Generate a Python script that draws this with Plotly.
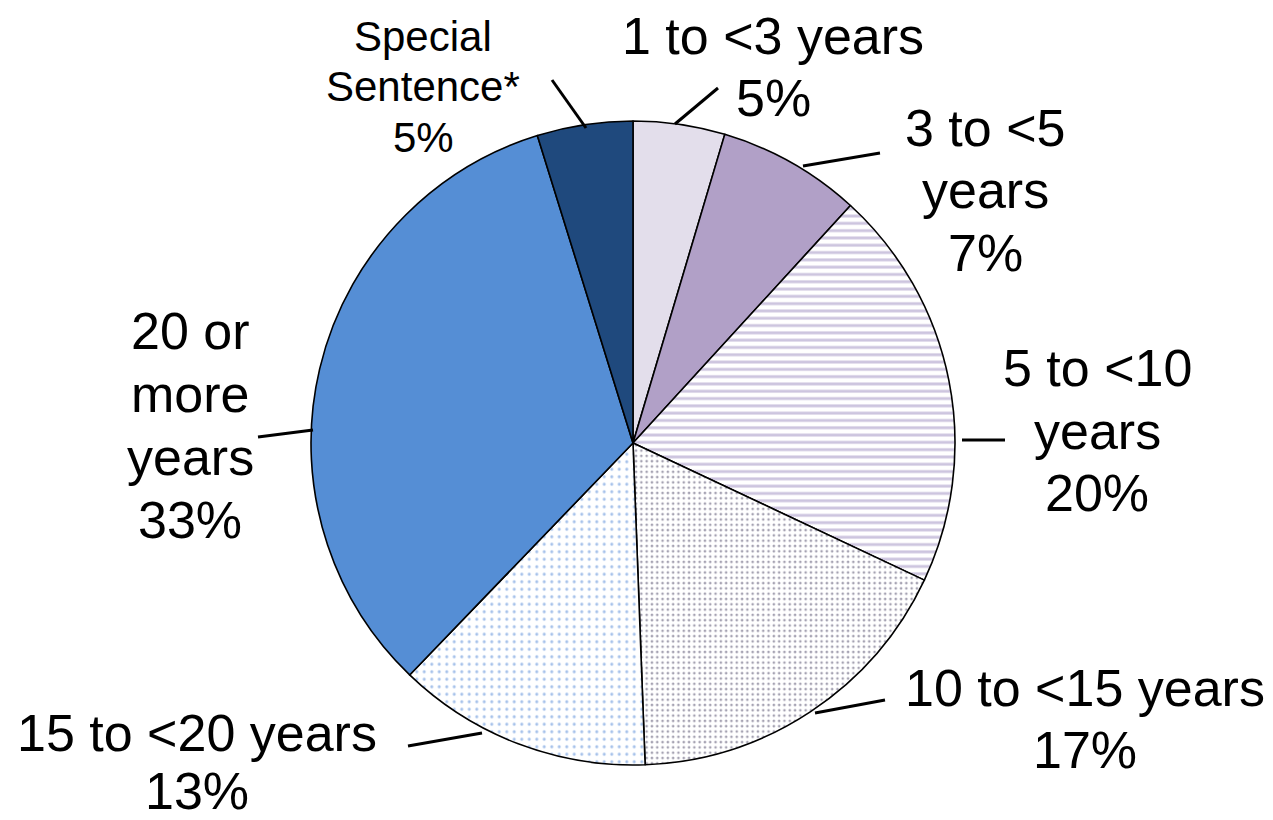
import plotly.graph_objects as go

W, H = 1273, 820
OFF = 8  # page body margin offset in the browser

categories = ["1 to <3 years", "3 to <5 years", "5 to <10 years", "10 to <15 years",
              "15 to <20 years", "20 or more years", "Special Sentence*"]
values = [4.6, 7.2, 20.2, 17.4, 12.8, 33.0, 4.8]

# label line breaks (text) per category
label_lines = [
    ["1 to <3 years"],
    ["3 to <5", "years"],
    ["5 to <10", "years"],
    ["10 to <15 years"],
    ["15 to <20 years"],
    ["20 or", "more", "years"],
    ["Special", "Sentence*"],
]

# styling
fill_colors = ["#E3DEEB", "#B1A0C7", "#FFFFFF", "#FFFFFF", "#FFFFFF", "#558ED5", "#1F497D"]
pattern_shapes = ["", "", "-", ".", ".", "", ""]
pattern_fg = ["#E3DEEB", "#B1A0C7", "#9C8CBF", "#4B4565", "#4F86D6", "#558ED5", "#1F497D"]
pattern_size = [8, 8, 7.3, 5.3, 7.5, 8, 8]
pattern_solidity = [0.3, 0.3, 0.4, 0.2, 0.13, 0.3, 0.3]

# layout: label centres (screen px), line spacing, font sizes, leader lines (screen px)
label_pos = [(773, 38), (985, 130), (1097, 370), (1085, 690), (197, 735), (190, 333), (423, 38)]
line_gap = [62, 62.5, 62.5, 62, 58, 63, 50.5]
font_sizes = [52, 52, 52, 52, 52, 52, 42]
leaders = [((675, 124), (718, 88)), ((803, 166), (880, 153)), ((962, 440), (1005, 440)),
           ((815, 713), (885, 700)), ((482, 733), (408, 746)), ((313, 430), (258, 437)),
           ((586, 128), (552, 80))]

cx, cy, r = 633 - OFF, 443 - OFF, 322


def px(x):
    return (x - OFF) / W


def py(y):
    return 1 - (y - OFF) / H


fig = go.Figure(go.Pie(
    labels=categories, values=values, sort=False, direction="clockwise", rotation=0,
    textinfo="none", hoverinfo="label+percent",
    marker=dict(colors=fill_colors, line=dict(color="black", width=1.6),
                pattern=dict(shape=pattern_shapes, fgcolor=pattern_fg, bgcolor=fill_colors,
                             size=pattern_size, solidity=pattern_solidity, fillmode="overlay")),
    domain=dict(x=[(cx - r) / W, (cx + r) / W], y=[(H - cy - r) / H, (H - cy + r) / H]),
    showlegend=False,
))

total = sum(values)
annotations = []
shapes = []
for i, cat in enumerate(categories):
    lines = label_lines[i] + [f"{values[i] / total * 100:.0f}%"]
    x0, y0 = label_pos[i]
    for j, t in enumerate(lines):
        annotations.append(dict(
            x=px(x0), y=py(y0 + j * line_gap[i] - 2), xref="paper", yref="paper",
            text=t, showarrow=False, xanchor="center", yanchor="middle", borderpad=0,
            font=dict(family="Liberation Sans, Arial, sans-serif", size=font_sizes[i], color="black"),
        ))
    (ax, ay), (bx, by) = leaders[i]
    shapes.append(dict(type="line", xref="paper", yref="paper",
                       x0=px(ax), y0=py(ay), x1=px(bx), y1=py(by),
                       line=dict(color="black", width=3)))

fig.update_layout(width=W, height=H, margin=dict(l=0, r=0, t=0, b=0),
                  paper_bgcolor="white", plot_bgcolor="white",
                  annotations=annotations, shapes=shapes)

fig.write_html("out.html")
